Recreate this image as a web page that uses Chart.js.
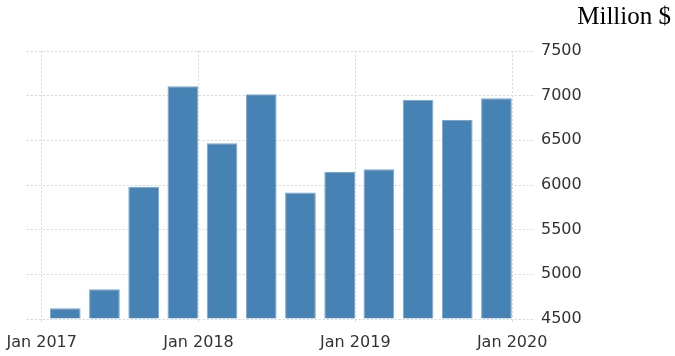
<!DOCTYPE html>
<html>
<head>
<meta charset="utf-8">
<script src="https://cdn.jsdelivr.net/npm/chart.js@4/dist/chart.umd.min.js"></script>
<style>
html,body{margin:0;padding:0;background:#fff;}
#wrap{width:675px;height:356px;}
</style>
</head>
<body>
<div id="wrap"><canvas id="c" width="675" height="356"></canvas></div>
<script>
// Quarterly values (Million $)
const quarters = ['2017 Q1','2017 Q2','2017 Q3','2017 Q4','2018 Q1','2018 Q2','2018 Q3','2018 Q4','2019 Q1','2019 Q2','2019 Q3','2019 Q4'];
const values = [4620, 4833, 5981, 7106, 6467, 7017, 5917, 6146, 6175, 6954, 6729, 6972];
const tickMonths = [0, 12, 24, 36];
const tickLabels = ['Jan 2017', 'Jan 2018', 'Jan 2019', 'Jan 2020'];
const yTicks = [4500, 5000, 5500, 6000, 6500, 7000, 7500];

// months since Jan 2017 for each quarter's bar
function quarterToMonth(q) {
  const [y, qq] = q.split(' ');
  return (parseInt(y) - 2017) * 12 + (parseInt(qq.slice(1)) - 1) * 3 + 1.8;
}
const points = quarters.map((q, i) => ({x: quarterToMonth(q), y: values[i]}));

const gridColor = '#d6d6d6';
const labelColor = '#333333';

new Chart(document.getElementById('c'), {
  type: 'bar',
  data: {
    datasets: [{
      data: points,
      backgroundColor: '#4682b4',
      borderColor: '#7ba7cf',
      borderWidth: 1,
      base: 4500,
      barPercentage: 0.87,
      categoryPercentage: 0.9
    }]
  },
  options: {
    responsive: false,
    animation: false,
    layout: {padding: {left: 26.7, right: 4, top: 2, bottom: 0}},
    plugins: {
      legend: {display: false},
      tooltip: {enabled: false},
      title: {
        display: true,
        text: 'Million $',
        align: 'end',
        color: '#000',
        font: {family: 'Liberation Serif', size: 25, weight: 'normal'},
        padding: {top: 0, bottom: 19}
      }
    },
    scales: {
      x: {
        type: 'linear',
        offset: false,
        min: -1.15,
        max: 37.75,
        afterBuildTicks: s => { s.ticks = tickMonths.map(v => ({value: v})); },
        afterFit: s => { s.height = 37; s.paddingLeft = 0; s.paddingRight = 0; },
        ticks: {
          autoSkip: false,
          maxRotation: 0,
          padding: 11,
          color: labelColor,
          font: {family: 'DejaVu Sans', size: 16},
          callback: v => tickLabels[tickMonths.indexOf(v)]
        },
        grid: {color: gridColor, lineWidth: 1, tickLength: 3, drawTicks: true, offset: false},
        border: {display: false, dash: [2, 2]}
      },
      y: {
        position: 'right',
        min: 4500,
        max: 7500,
        afterBuildTicks: s => { s.ticks = yTicks.map(v => ({value: v})); },
        afterFit: s => { s.width = 136; },
        ticks: {
          padding: 6,
          color: labelColor,
          font: {family: 'DejaVu Sans', size: 16},
          callback: v => String(v)
        },
        grid: {color: gridColor, lineWidth: 1, drawTicks: false},
        border: {display: false, dash: [2, 2]}
      }
    }
  }
});
</script>
</body>
</html>
